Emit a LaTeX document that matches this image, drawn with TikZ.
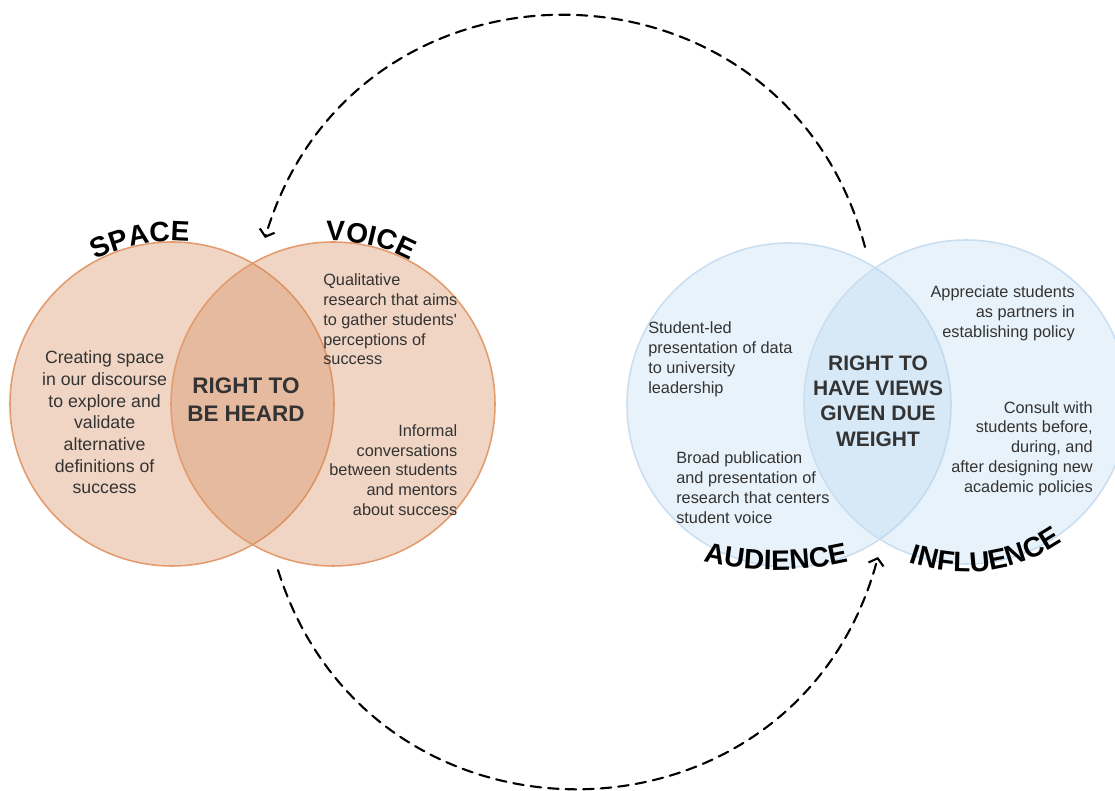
\documentclass[tikz,border=0pt]{standalone}
\usepackage{fontspec}
\setmainfont{Liberation Sans}
\usepackage{tikz}
\usetikzlibrary{arrows.meta,decorations.text}
\definecolor{peach}{HTML}{D48756}
\definecolor{peachline}{HTML}{E39A6C}
\definecolor{sky}{HTML}{B2D4EE}
\definecolor{skyline}{HTML}{C9DEF1}
\definecolor{ink}{HTML}{333333}
\newcommand\tagfont{\bfseries\fontsize{20}{22}\selectfont}
\tikzset{
  every picture/.style={line join=round, line cap=round, >=Stealth},
  ring/.style={circle, minimum size=8.1cm, inner sep=0pt},
  warm/.style={ring, fill=peach, fill opacity=0.35, draw=peachline, draw opacity=1, line width=1.1pt},
  cool/.style={ring, fill=sky, fill opacity=0.3, draw=skyline, draw opacity=1, line width=1.1pt},
  note/.style={text=ink, inner sep=0pt, font=\fontsize{11.6}{14.1}\selectfont},
  bignote/.style={text=ink, inner sep=0pt, align=center, font=\fontsize{12.6}{15.4}\selectfont},
  core/.style 2 args={text=ink, inner sep=0pt, align=center, font=\bfseries\fontsize{#1}{#2}\selectfont},
  curved/.style={decorate, decoration={text along path, text align=center, text={|\tagfont|#1}}},
  flow/.style={line width=1.5pt, dash pattern=on 7.5pt off 5pt, -{Straight Barb[length=4.5pt,width=11pt]}},
}

\begin{document}
\begin{tikzpicture}
\useasboundingbox (0,0) rectangle (27.875,19.775);
\clip (0,0) rectangle (27.875,19.775);

\node[warm] (space) at (4.300,9.675) {};
\node[warm] (voice) at (8.325,9.675) {};
\node[cool] (audience) at (19.725,9.650) {};
\node[cool] (influence) at (24.150,9.725) {};

\path[curved=SPACE] ([shift={(131:4.075)}]space.center) arc[start angle=131, end angle=71, radius=4.075];
\path[curved=VOICE] ([shift={(107:4.075)}]voice.center) arc[start angle=107, end angle=47, radius=4.075];
\path[curved=AUDIENCE] ([shift={(240:8.000)}]19.400,13.525) arc[start angle=240, end angle=300, radius=8.000];
\path[curved=INFLUENCE] ([shift={(232:4.250)}]influence.center) arc[start angle=232, end angle=323, radius=4.250];

\node[bignote] (space-note) at (2.615,9.213) {Creating space\\in our discourse\\to explore and\\validate\\alternative\\definitions of\\success};
\node[core={16}{19.7}] (heard) at (6.150,9.788) {RIGHT TO\\BE HEARD};
\node[note, anchor=west, align=left] (voice-top) at (8.075,11.788) {Qualitative\\research that aims\\to gather students\textquotesingle\\perceptions of\\success};
\node[note, anchor=east, align=right] (voice-low) at (11.438,8.025) {Informal\\conversations\\between students\\and mentors\\about success};

\node[note, anchor=west, align=left] (aud-top) at (16.200,10.788) {Student-led\\presentation of data\\to university\\leadership};
\node[note, anchor=west, align=left] (aud-low) at (16.900,7.588) {Broad publication\\and presentation of\\research that centers\\student voice};
\node[core={14.9}{18.1}] (weight) at (21.950,9.750) {RIGHT TO\\HAVE VIEWS\\GIVEN DUE\\WEIGHT};
\node[note, anchor=east, align=right] (infl-top) at (26.875,11.950) {Appreciate students\\as partners in\\establishing policy};
\node[note, anchor=east, align=right] (infl-low) at (27.325,8.563) {Consult with\\students before,\\during, and\\after designing new\\academic policies};

\coordinate (top-from) at (21.625,13.600);
\coordinate (top-to) at (6.625,13.825);
\coordinate (low-from) at (6.950,5.525);
\coordinate (low-to) at (21.950,5.850);
\draw[flow] (top-from) .. controls (19.613,21.213) and (8.863,21.375) .. (top-to);
\draw[flow] (low-from) .. controls (9.290,-1.943) and (19.938,-1.713) .. (low-to);
\end{tikzpicture}
\end{document}
